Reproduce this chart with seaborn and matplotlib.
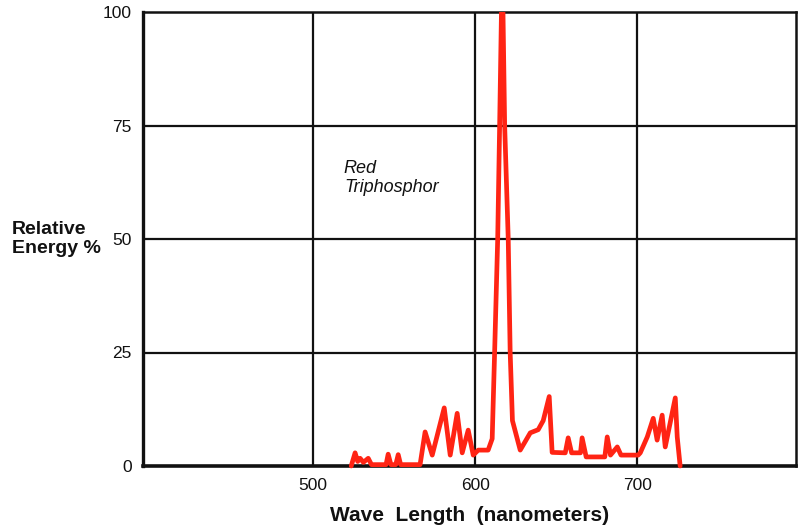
import matplotlib
matplotlib.use("Agg")
import matplotlib.pyplot as plt
from matplotlib.transforms import Bbox, TransformedBbox
import seaborn as sns
import pandas as pd

wavelength = [523.5, 525.9, 527.5, 529.0, 531.0, 534.0, 536.0, 545.0, 546.3, 548.0,
              551.0, 552.5, 554.0, 566.0, 569.1, 573.5, 580.9, 584.6, 588.9, 592.0,
              595.7, 598.8, 601.9, 608.0, 610.5, 612.0, 613.9, 615.1, 616.4, 617.0,
              618.2, 620.4, 621.6, 623.0, 627.8, 634.0, 638.9, 642.0, 645.7, 647.5,
              655.6, 657.4, 659.5, 665.0, 666.0, 668.5, 680.0, 681.5, 683.5, 687.7,
              690.0, 700.6, 701.9, 706.2, 709.9, 712.3, 715.4, 717.3, 723.5, 724.7,
              726.5]
energy = [0.0, 2.9, 1.0, 1.7, 0.8, 1.7, 0.3, 0.3, 2.6, 0.3,
          0.3, 2.5, 0.3, 0.3, 7.5, 2.4, 12.8, 2.4, 11.6, 2.9,
          7.9, 2.4, 3.5, 3.5, 6.0, 25.0, 50.0, 75.0, 104.0, 104.0,
          75.0, 50.0, 25.0, 10.0, 3.5, 7.3, 8.0, 10.0, 15.3, 3.0,
          2.9, 6.2, 2.9, 2.9, 6.2, 2.0, 2.0, 6.4, 2.4, 4.2,
          2.4, 2.4, 2.9, 6.4, 10.5, 5.7, 11.2, 4.2, 15.0, 6.4,
          0.0]

x_ticks = [500, 600, 700]
y_ticks = [0, 25, 50, 75, 100]

df = pd.DataFrame({"wavelength": wavelength, "energy": energy})

sns.set_style("white")
plt.rcParams["font.family"] = ["Liberation Sans", "DejaVu Sans"]

fig = plt.figure(figsize=(7.98, 5.27), dpi=100)
ax = fig.add_axes([143 / 798, 61 / 527, 653 / 798, 454 / 527])

sns.lineplot(data=df, x="wavelength", y="energy", ax=ax, color="#ff2414",
             linewidth=3.4, zorder=5, sort=False)
clip = TransformedBbox(Bbox([[0, -0.03], [1, 1]]), ax.transAxes)
for l in ax.lines:
    l.set_clip_box(clip)

ax.set_xlim(395, 798)
ax.set_ylim(0, 100)
ax.set_xticks(x_ticks)
ax.set_yticks(y_ticks)
ax.set_xticklabels([str(v) for v in x_ticks], fontsize=12.5, color="#111111")
ax.set_yticklabels([str(v) for v in y_ticks], fontsize=12.5, color="#111111")
ax.tick_params(axis="y", length=3, width=1.5, color="black", pad=5)
ax.tick_params(axis="x", length=0, pad=9)

for v in x_ticks:
    ax.axvline(v, color="#111111", linewidth=1.6, zorder=1)
for v in y_ticks[1:-1]:
    ax.axhline(v, color="#111111", linewidth=1.6, zorder=1)

for side, w in [("left", 2.4), ("bottom", 2.6), ("top", 1.8), ("right", 1.8)]:
    ax.spines[side].set_visible(True)
    ax.spines[side].set_color("#111111")
    ax.spines[side].set_linewidth(w)

ax.set_xlabel("Wave  Length  (nanometers)", fontsize=15, fontweight="bold",
              labelpad=9, color="#111111")
ax.set_ylabel("Relative\nEnergy %", fontsize=14, fontweight="bold",
              rotation=0, ha="left", va="center", linespacing=1.2,
              color="#111111")
ax.yaxis.set_label_coords(-0.2006, 0.5)

ax.text(519.0, 67.5, "Red\nTriphosphor", fontsize=13, fontstyle="italic",
        ha="left", va="top", linespacing=1.15, color="#111111")

fig.savefig("out.png", dpi=100, facecolor="white")
